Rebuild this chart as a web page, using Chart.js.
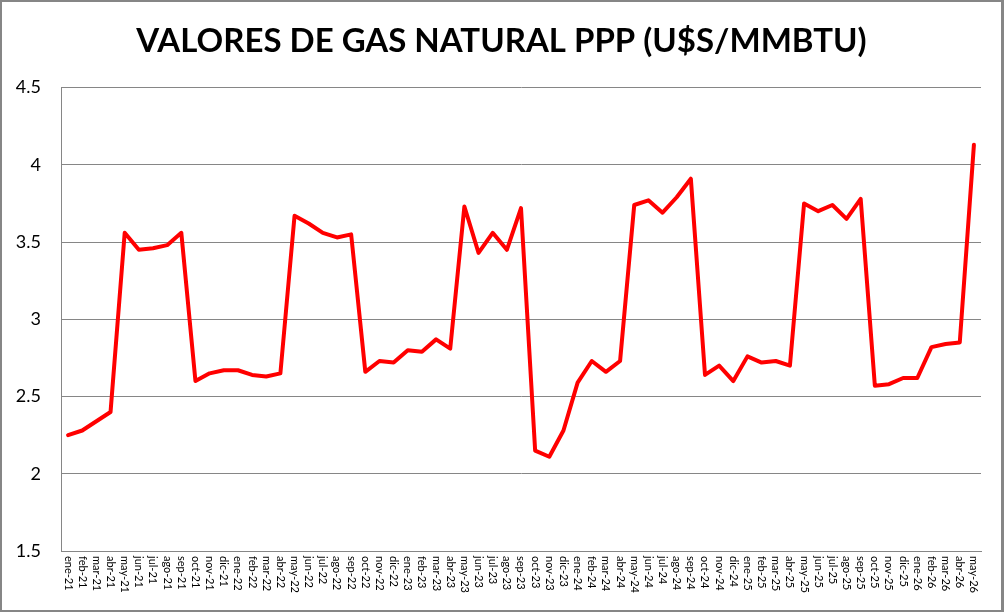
<!DOCTYPE html>
<html>
<head>
<meta charset="utf-8">
<script src="https://cdn.jsdelivr.net/npm/chart.js@4"></script>
<style>
    html, body { margin: 0; padding: 0; background: #fff; }
    #frame {
        width: 1004px;
        height: 612px;
        box-sizing: border-box;
        border: 2px solid #868686;
        border-right-width: 3px;
        position: relative;
    }
    #wrap { position: absolute; left: 0; top: 0; width: 999px; height: 608px; }
</style>
</head>
<body>
<div id="frame">
    <div id="wrap"><canvas id="gas-chart"></canvas></div>
</div>
<script>
// ==================== DONNÉES ====================
const chartTitle = "VALORES DE GAS NATURAL PPP (U$S/MMBTU)";

const labels = [
    "ene-21", "feb-21", "mar-21", "abr-21", "may-21", "jun-21", "jul-21", "ago-21", "sep-21", "oct-21", "nov-21", "dic-21",
    "ene-22", "feb-22", "mar-22", "abr-22", "may-22", "jun-22", "jul-22", "ago-22", "sep-22", "oct-22", "nov-22", "dic-22",
    "ene-23", "feb-23", "mar-23", "abr-23", "may-23", "jun-23", "jul-23", "ago-23", "sep-23", "oct-23", "nov-23", "dic-23",
    "ene-24", "feb-24", "mar-24", "abr-24", "may-24", "jun-24", "jul-24", "ago-24", "sep-24", "oct-24", "nov-24", "dic-24",
    "ene-25", "feb-25", "mar-25", "abr-25", "may-25", "jun-25", "jul-25", "ago-25", "sep-25", "oct-25", "nov-25", "dic-25",
    "ene-26", "feb-26", "mar-26", "abr-26", "may-26"
];

const values2021 = [2.25, 2.28, 2.34, 2.40, 3.56, 3.45, 3.46, 3.48, 3.56, 2.60, 2.65, 2.67];
const values2022 = [2.67, 2.64, 2.63, 2.65, 3.67, 3.62, 3.56, 3.53, 3.55, 2.66, 2.73, 2.72];
const values2023 = [2.80, 2.79, 2.87, 2.81, 3.73, 3.43, 3.56, 3.45, 3.72, 2.15, 2.11, 2.28];
const values2024 = [2.59, 2.73, 2.66, 2.73, 3.74, 3.77, 3.69, 3.79, 3.91, 2.64, 2.70, 2.60];
const values2025 = [2.76, 2.72, 2.73, 2.70, 3.75, 3.70, 3.74, 3.65, 3.78, 2.57, 2.58, 2.62];
const values2026 = [2.62, 2.82, 2.84, 2.85, 4.13];

const yTicks = [1.5, 2, 2.5, 3, 3.5, 4, 4.5];

const values = [].concat(values2021, values2022, values2023, values2024, values2025, values2026);

// ==================== ÉTIQUETTES X (texte tourné vers le bas) ====================
const verticalLabels = {
    id: "verticalLabels",
    afterDraw(chart) {
        const ctx = chart.ctx;
        const xScale = chart.scales.x;
        const top = chart.chartArea.bottom + 5;
        ctx.save();
        ctx.font = "11px Lato";
        ctx.fillStyle = "#000";
        ctx.textAlign = "left";
        ctx.textBaseline = "middle";
        labels.forEach((lab, i) => {
            const x = xScale.getPixelForValue(i);
            ctx.save();
            ctx.translate(x, top);
            ctx.rotate(Math.PI / 2);
            ctx.fillText(lab, 0, 0);
            ctx.restore();
        });
        ctx.restore();
    }
};

// ==================== GRAPHIQUE ====================
const ctx = document.getElementById("gas-chart").getContext("2d");

new Chart(ctx, {
    type: "line",
    data: {
        labels,
        datasets: [
            {
                label: "Gas natural PPP",
                data: values,
                borderColor: "#ff0000",
                backgroundColor: "#ff0000",
                borderWidth: 4,
                pointRadius: 0,
                tension: 0,
                borderJoinStyle: "round",
                borderCapStyle: "round",
                fill: false
            }
        ]
    },
    options: {
        responsive: true,
        maintainAspectRatio: false,
        animation: false,
        layout: {
            padding: 0
        },
        plugins: {
            legend: { display: false },
            tooltip: { enabled: false },
            title: {
                display: true,
                text: chartTitle,
                color: "#000",
                font: { family: "Lato", size: 33, weight: "bold" },
                padding: { top: 20, bottom: 26 }
            }
        },
        scales: {
            x: {
                offset: true,
                ticks: { display: false },
                grid: { display: false, drawTicks: false },
                border: { display: true, color: "#868686", width: 1 },
                afterFit: (scale) => { scale.height = 59; }
            },
            y: {
                min: 1.5,
                max: 4.5,
                afterBuildTicks: (scale) => {
                    scale.ticks = yTicks.map(v => ({ value: v }));
                },
                ticks: {
                    color: "#000",
                    font: { family: "Lato", size: 18 },
                    padding: 20,
                    callback: (value) => String(value)
                },
                grid: { color: "#868686", lineWidth: 1, drawTicks: false },
                border: { display: true, color: "#868686", width: 1 },
                afterFit: (scale) => { scale.width = 59; }
            },
            // axe vide à droite : garde la marge sans décaler le titre
            yRight: {
                position: "right",
                min: 1.5,
                max: 4.5,
                ticks: { display: false },
                grid: { display: false, drawTicks: false },
                border: { display: false },
                afterFit: (scale) => { scale.width = 20; }
            }
        }
    },
    plugins: [verticalLabels]
});
</script>
</body>
</html>
